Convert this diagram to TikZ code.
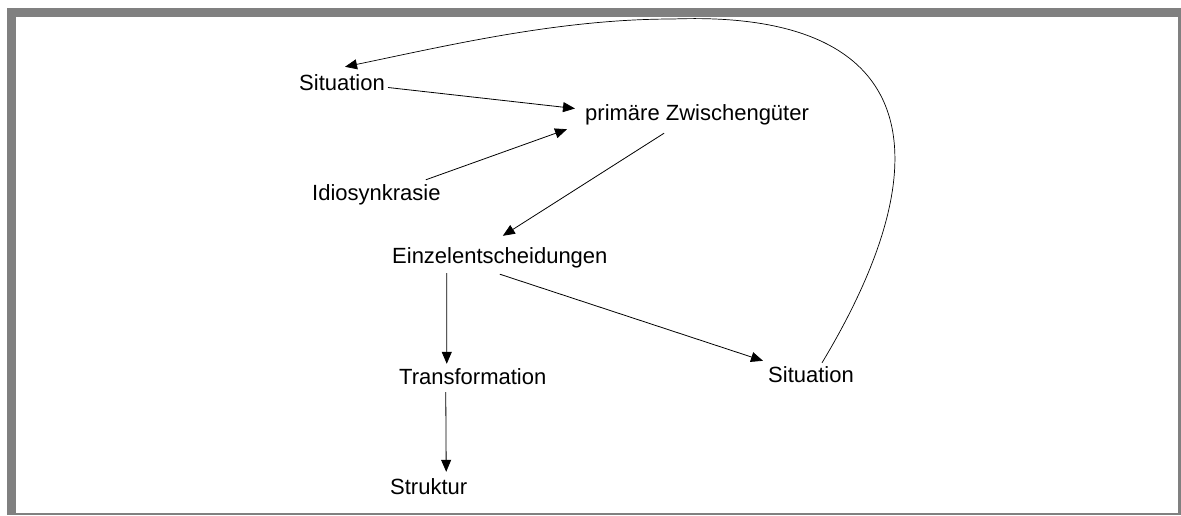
\documentclass[tikz,border=0pt]{standalone}
\usepackage{fontspec}
\setmainfont{Liberation Sans}
\usetikzlibrary{calc,arrows.meta}
\definecolor{framegray}{RGB}{128,128,128}
\begin{document}
\begin{tikzpicture}[x=1pt,y=-1pt,
  lbl/.style={inner sep=0pt,anchor=base west,text height=16pt,text depth=5pt,
    font=\fontsize{22}{26}\selectfont},
  arr/.style={line width=0.8pt,-{Triangle[length=12pt,width=10pt]}},
  curvearr/.style={line width=0.7pt,-{Triangle[length=12pt,width=10pt]}}]
\useasboundingbox (0,0) rectangle (1181,515);
\fill[framegray] (7,8) rectangle (1181,515);
\fill[white] (16,17) rectangle (1178,513);
\node[lbl] (sit1) at (299,90) {Situation};
\node[lbl] (prim) at (585,120) {primäre Zwischengüter};
\node[lbl] (idio) at (312,200) {Idiosynkrasie};
\node[lbl] (einz) at (392,263) {Einzelentscheidungen};
\node[lbl] (trans) at (399,384) {Transformation};
\node[lbl] (sit2) at (768,382) {Situation};
\node[lbl] (strukt) at (390,494) {Struktur};
\draw[arr] ($(sit1.east)+(3,3)$) -- ($(prim.west)+(-10,-6)$);
\draw[arr] ($(idio.north east)+(-15,-4)$) -- ($(prim.south west)+(-18,4)$);
\draw[arr] ($(prim.south)+(-33,8)$) -- ($(einz.north)+(3,-11)$);
\draw[arr] ($(einz.south)+(-53,5)$) -- ($(trans.north)+(-26,-4)$);
\draw[arr] ($(einz.south)+(0,6)$) -- ($(sit2.north west)+(-5,-5)$);
\draw[arr] ($(trans.south)+(-27,3)$) -- ($(strukt.north)+(17.5,-6)$);
\coordinate (top) at (673,19);
\draw[curvearr] ($(sit2.north)+(11,-3)$) .. controls (950,150) and (915,10) .. (top)
  .. controls (560,19) and (450,45) .. ($(sit1.north)+(3,-7)$);
\end{tikzpicture}
\end{document}
